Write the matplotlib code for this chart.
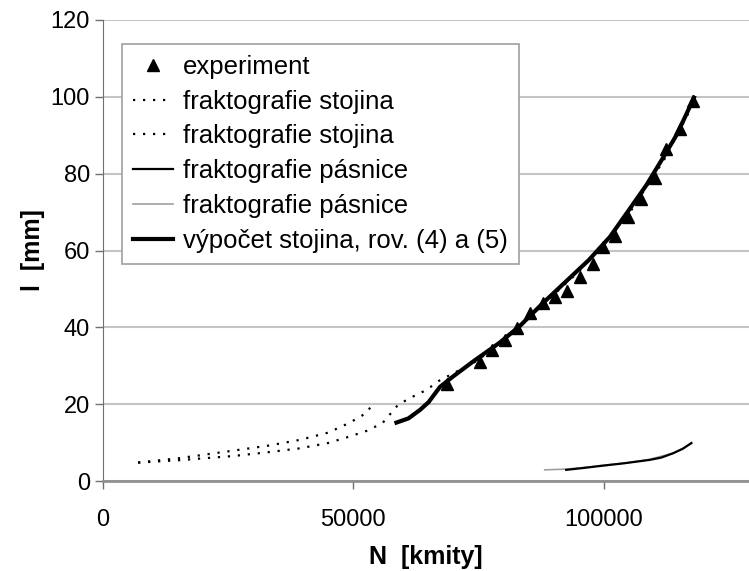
import matplotlib.pyplot as plt

plt.rcParams['font.family'] = ['Liberation Sans', 'DejaVu Sans']

# experiment (triangles)
exp_n = [68600, 75200, 77600, 80200, 82600, 85200, 87800, 90200, 92600, 95200,
         97800, 99800, 102200, 104800, 107500, 110200, 112500, 115200, 117800]
exp_l = [25.3, 31.1, 34.2, 36.8, 39.9, 43.8, 46.4, 48.0, 49.4, 53.0,
         56.4, 60.8, 63.7, 68.6, 73.3, 79.0, 86.4, 91.6, 99.0]

# fraktografie stojina - two dotted curves
st1_n = [7000, 15000, 26000, 33000, 39300, 45000, 49300, 52600, 54000]
st1_l = [4.8, 5.9, 7.9, 9.2, 10.7, 12.6, 15.2, 17.7, 20.3]
st2_n = [7000, 15000, 26000, 33000, 39300, 45000, 49300, 53000, 55900, 58900,
         61300, 64600, 67000, 75000, 85000, 95000, 105000, 112000, 118000]
st2_l = [4.8, 5.4, 6.5, 7.5, 8.5, 9.9, 11.6, 13.2, 15.2, 19.8,
         21.6, 23.7, 26.0, 31.5, 42.5, 54.5, 69.5, 83.5, 98.5]

# fraktografie pasnice - dark and grey
pa1_n = [92500, 96000, 99200, 104000, 109200, 111500, 113800, 115800, 117500]
pa1_l = [2.9, 3.4, 3.9, 4.6, 5.5, 6.1, 7.2, 8.4, 9.9]
pa2_n = [88200, 92500, 96000, 100000, 105000, 109000, 114000, 117500]
pa2_l = [2.9, 3.1, 3.5, 4.1, 4.8, 5.6, 7.3, 9.7]

# vypocet stojina
vy_n = [58600, 61000, 63300, 65000, 67300, 69900, 73900, 79200, 83200, 88000,
        92500, 97000, 101200, 105000, 108500, 112000, 114500, 116500, 118000]
vy_l = [15.2, 16.3, 18.5, 20.5, 24.5, 27.2, 31.1, 36.0, 40.3, 46.5,
        52.0, 57.5, 63.5, 70.5, 77.0, 84.5, 90.0, 95.5, 99.8]

fig = plt.figure(figsize=(7.49, 5.71), dpi=100)
ax = fig.add_axes([103 / 749, 90 / 571, 646 / 749, 461 / 571])

dots = (0, (1, 3.5))
ax.plot(st1_n, st1_l, color="black", lw=1.6, linestyle=dots, label="fraktografie stojina", zorder=3)
ax.plot(st2_n, st2_l, color="black", lw=1.6, linestyle=dots, label="fraktografie stojina", zorder=3)
ax.plot(pa2_n, pa2_l, color="#a0a0a0", lw=1.2, label="fraktografie pásnice", zorder=3)
ax.plot(pa1_n, pa1_l, color="black", lw=1.6, label="fraktografie pásnice", zorder=3)
ax.plot(vy_n, vy_l, color="black", lw=3, label="výpočet stojina, rov. (4) a (5)", zorder=4)
ax.plot(exp_n, exp_l, linestyle="none", marker="^", color="black", markersize=9,
        label="experiment", zorder=5)

ax.set_xlim(0, 129000)
ax.set_ylim(0, 120)
ax.set_xticks([0, 50000, 100000])
ax.set_yticks(range(0, 121, 20))
ax.yaxis.grid(True, color="#c4c4c4", lw=1.5)
ax.set_axisbelow(True)
for s in ["top", "right"]:
    ax.spines[s].set_visible(False)
ax.spines["left"].set_color("#707070")
ax.spines["bottom"].set_color("#909090")
ax.spines["bottom"].set_linewidth(2)
ax.tick_params(axis="both", labelsize=17, colors="#707070", labelcolor="black", length=6, width=1)
ax.tick_params(axis="x", pad=14)

ax.set_xlabel("N  [kmity]", fontsize=18, fontweight="bold", labelpad=10)
ax.set_ylabel("l  [mm]", fontsize=18, fontweight="bold", labelpad=4)

h, l = ax.get_legend_handles_labels()
order = [5, 0, 1, 3, 2, 4]
leg = ax.legend([h[i] for i in order], [l[i] for i in order], loc="upper left",
                bbox_to_anchor=(122 / 749, 1 - 44 / 571), bbox_transform=fig.transFigure,
                borderaxespad=0, fontsize=18.5, fancybox=False, framealpha=1,
                edgecolor="#a0a0a0", handlelength=1.55, handletextpad=0.4,
                labelspacing=0.42, borderpad=0.42)
leg.get_frame().set_linewidth(1.2)

plt.savefig("out.png")
